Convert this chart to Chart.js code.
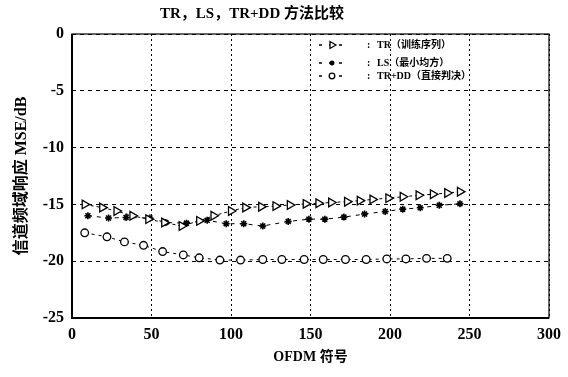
<!DOCTYPE html>
<html>
<head>
<meta charset="utf-8">
<script src="https://cdn.jsdelivr.net/npm/chart.js@4/dist/chart.umd.min.js"></script>
<style>
  body { margin: 0; background: #fff; }
  #wrap { width: 568px; height: 377px; }
</style>
</head>
<body>
<div id="wrap"><canvas id="mseChart" width="568" height="377"></canvas></div>
<script>
// OFDM symbol index for each marker
const trX = [8, 19, 28, 38, 48, 58, 69, 80, 89, 100, 109, 119, 128, 137, 147, 155, 163, 173, 181, 189, 199, 208, 218, 227, 236, 244];
const trMse = [-15.0, -15.28, -15.58, -16.0, -16.3, -16.6, -16.9, -16.45, -16.0, -15.58, -15.28, -15.2, -15.15, -15.05, -14.95,
  -14.9, -14.83, -14.76, -14.67, -14.56, -14.45, -14.33, -14.2, -14.1, -14.0, -13.88];

const lsX = [10, 23, 34, 49, 59, 72, 85, 97, 108, 120, 136, 149, 159, 171, 184, 197, 208, 219, 231, 244];
const lsMse = [-16.0, -16.2, -16.15, -16.2, -16.6, -16.65, -16.4, -16.7, -16.7, -16.9, -16.5, -16.3, -16.3, -16.12,
  -15.85, -15.62, -15.42, -15.3, -15.08, -14.95];

const ddX = [8, 22, 33, 45, 57, 70, 80, 93, 106, 120, 132, 146, 158, 172, 185, 198, 210, 223, 236];
const ddMse = [-17.5, -17.85, -18.3, -18.6, -19.15, -19.45, -19.7, -19.9, -19.9, -19.85, -19.85, -19.85, -19.85,
  -19.85, -19.85, -19.8, -19.8, -19.75, -19.75];

const seriesNames = ['TR（训练序列）', 'LS（最小均方）', 'TR+DD（直接判决）'];
const chartTitle = 'TR，LS，TR+DD 方法比较';
const xLabel = 'OFDM 符号';
const yLabel = '信道频域响应 MSE/dB';

const serif = '"Liberation Serif", "Noto Sans CJK SC", serif';

function toPoints(xs, ys) {
  return xs.map((x, i) => ({ x: x, y: ys[i] }));
}

// title drawn left of centre like the scan
const titlePlugin = {
  id: 'scanTitle',
  afterDraw(chart) {
    const ctx = chart.ctx;
    ctx.save();
    ctx.font = 'bold 15px ' + serif;
    ctx.fillStyle = '#000';
    ctx.textAlign = 'center';
    ctx.textBaseline = 'middle';
    ctx.fillText(chartTitle, 252, 14);
    ctx.restore();
  }
};

// legend sits inside the plot, top right
const legendPlugin = {
  id: 'innerLegend',
  afterDraw(chart) {
    const ctx = chart.ctx;
    const area = chart.chartArea;
    const rows = [45, 63, 76];
    const left = area.right - 230;
    ctx.save();
    chart.data.datasets.forEach((ds, i) => {
      const y = area.top + rows[i] - 34;
      ctx.strokeStyle = '#000';
      ctx.lineWidth = 1.5;
      ctx.setLineDash([3, 7]);
      ctx.beginPath();
      ctx.moveTo(left, y);
      ctx.lineTo(left + 30, y);
      ctx.stroke();
      ctx.setLineDash([]);
      ctx.fillStyle = ds.pointBackgroundColor;
      ctx.lineWidth = ds.pointBorderWidth;
      Chart.helpers.drawPoint(ctx, {
        pointStyle: ds.pointStyle,
        rotation: ds.pointRotation || 0,
        radius: ds.pointRadius - 1,
        borderWidth: ds.pointBorderWidth
      }, left + 13, y);
      ctx.fillStyle = '#000';
      ctx.font = 'bold 10px ' + serif;
      ctx.textBaseline = 'middle';
      ctx.textAlign = 'left';
      ctx.fillText(':', left + 48, y);
      ctx.fillText(seriesNames[i], left + 58, y);
    });
    ctx.restore();
  }
};

// plot frame, left and bottom heavier
const framePlugin = {
  id: 'frame',
  afterDatasetsDraw(chart) {
    const ctx = chart.ctx;
    const a = chart.chartArea;
    ctx.save();
    ctx.strokeStyle = '#000';
    ctx.lineWidth = 1.2;
    ctx.strokeRect(a.left, a.top, a.right - a.left, a.bottom - a.top);
    ctx.lineWidth = 2;
    ctx.beginPath();
    ctx.moveTo(a.left, a.top);
    ctx.lineTo(a.left, a.bottom);
    ctx.lineTo(a.right, a.bottom);
    ctx.stroke();
    ctx.restore();
  }
};

const ctx = document.getElementById('mseChart').getContext('2d');
const mseChart = new Chart(ctx, {
  type: 'scatter',
  data: {
    datasets: [
      {
        label: seriesNames[0],
        data: toPoints(trX, trMse),
        showLine: true,
        borderColor: '#000',
        borderWidth: 1,
        borderDash: [3, 3],
        pointStyle: 'triangle',
        pointRotation: 90,
        pointRadius: 5,
        pointBorderWidth: 1.3,
        pointBorderColor: '#000',
        pointBackgroundColor: '#fff'
      },
      {
        label: seriesNames[1],
        data: toPoints(lsX, lsMse),
        showLine: true,
        borderColor: '#000',
        borderWidth: 1,
        borderDash: [4, 5],
        pointStyle: 'star',
        pointRadius: 3.5,
        pointBorderWidth: 1.6,
        pointBorderColor: '#000',
        pointBackgroundColor: '#000'
      },
      {
        label: seriesNames[2],
        data: toPoints(ddX, ddMse),
        showLine: true,
        borderColor: '#000',
        borderWidth: 1,
        borderDash: [3, 4],
        pointStyle: 'circle',
        pointRadius: 3.8,
        pointBorderWidth: 1.3,
        pointBorderColor: '#000',
        pointBackgroundColor: '#fff'
      }
    ]
  },
  options: {
    responsive: false,
    animation: false,
    layout: { padding: { left: 0, top: 34, right: 18, bottom: 0 } },
    plugins: {
      legend: { display: false },
      title: { display: false },
      tooltip: { enabled: false }
    },
    scales: {
      x: {
        type: 'linear',
        min: 0,
        max: 300,
        ticks: {
          stepSize: 50,
          color: '#000',
          padding: 7,
          font: { family: serif, size: 16, weight: 'bold' }
        },
        grid: {
          color: '#000',
          lineWidth: 1,
          drawTicks: false
        },
        border: { display: false, dash: [2, 3] },
        title: {
          display: true,
          text: xLabel,
          color: '#000',
          padding: { top: 0, bottom: 11 },
          font: { family: serif, size: 14, weight: 'bold' }
        },
        afterFit(scale) { scale.height = 59; }
      },
      y: {
        min: -25,
        max: 0,
        ticks: {
          stepSize: 5,
          color: '#000',
          padding: 8,
          font: { family: serif, size: 16, weight: 'bold' }
        },
        grid: {
          color: '#000',
          lineWidth: 1,
          drawTicks: false
        },
        border: { display: false, dash: [4, 4] },
        title: {
          display: true,
          text: yLabel,
          color: '#000',
          padding: { top: 12, bottom: 0 },
          font: { family: serif, size: 16, weight: 'bold' }
        },
        afterFit(scale) { scale.width = 72; }
      }
    }
  },
  plugins: [framePlugin, titlePlugin, legendPlugin]
});
</script>
</body>
</html>
